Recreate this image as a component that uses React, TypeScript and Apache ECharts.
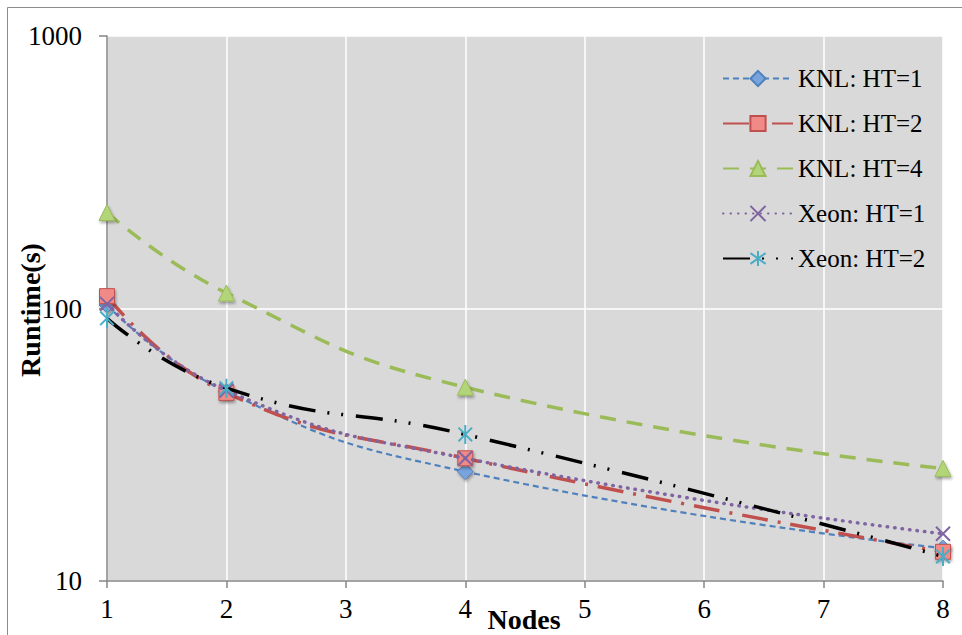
import React, { useEffect, useRef } from "react";
import * as echarts from "echarts";

const nodes = [1, 2, 4, 8];
const seriesNames = ["KNL: HT=1", "KNL: HT=2", "KNL: HT=4", "Xeon: HT=1", "Xeon: HT=2"];
const knlHT1 = [103, 49.5, 25.2, 13.2];
const knlHT2 = [111, 49, 28.2, 12.8];
const knlHT4 = [225, 114, 51.4, 25.9];
const xeonHT1 = [104, 50, 28.2, 14.9];
const xeonHT2 = [92, 51, 34.5, 12.3];
const xAxisTitle = "Nodes";
const yAxisTitle = "Runtime(s)";

const FONT = "Liberation Serif";
const CROSS = "path://M0,0L10,10M10,0L0,10";
const ASTERISK = "path://M0,0L10,10M10,0L0,10M5,-2L5,12";

const shadow = {
  shadowBlur: 3,
  shadowColor: "rgba(0,0,0,0.35)",
  shadowOffsetX: 1,
  shadowOffsetY: 2,
};

export default function App() {
  const ref = useRef<HTMLDivElement>(null);
  useEffect(() => {
    if (!ref.current) return;
    const chart = echarts.init(ref.current, undefined, { renderer: "svg" });
    const pts = (vals: number[]) => nodes.map((n, i) => [n, vals[i]]);
    const option: any = {
      animation: false,
      backgroundColor: "#ffffff",
      textStyle: { fontFamily: FONT },
      grid: {
        left: 107,
        right: 19,
        top: 36,
        bottom: 54,
        show: true,
        backgroundColor: "#D9D9D9",
        borderWidth: 0,
      },
      legend: {
        orient: "vertical",
        left: 717,
        top: 61,
        itemWidth: 70,
        itemHeight: 19,
        itemGap: 20,
        selectedMode: false,
        data: seriesNames,
        textStyle: { fontFamily: FONT, fontSize: 25, color: "#000", lineHeight: 25 },
      },
      xAxis: {
        type: "value",
        min: 1,
        max: 8,
        interval: 1,
        axisLine: { show: true, lineStyle: { color: "#868686", width: 1.5 } },
        axisTick: { show: true, length: 7, lineStyle: { color: "#868686", width: 1.5 } },
        splitLine: { show: true, lineStyle: { color: "#ffffff", width: 1.5 } },
        axisLabel: { fontFamily: FONT, fontSize: 27, color: "#000", margin: 14 },
      },
      yAxis: {
        type: "log",
        logBase: 10,
        min: 10,
        max: 1000,
        axisLine: { show: true, lineStyle: { color: "#868686", width: 1.5 } },
        axisTick: { show: true, length: 8, lineStyle: { color: "#868686", width: 1.5 } },
        splitLine: { show: true, lineStyle: { color: "#ffffff", width: 1.5 } },
        minorTick: { show: false },
        axisLabel: {
          fontFamily: FONT,
          fontSize: 27,
          color: "#000",
          margin: 25,
          formatter: (v: number) => String(Math.round(v)),
        },
      },
      graphic: [
        {
          type: "line",
          shape: { x1: 7.5, y1: 7.5, x2: 962, y2: 7.5 },
          style: { stroke: "#8c8c8c", lineWidth: 1 },
        },
        {
          type: "line",
          shape: { x1: 7.5, y1: 7.5, x2: 7.5, y2: 635 },
          style: { stroke: "#8c8c8c", lineWidth: 1 },
        },
        {
          type: "text",
          x: 30,
          y: 310,
          rotation: Math.PI / 2,
          style: {
            text: yAxisTitle,
            fontFamily: FONT,
            fontSize: 28,
            fontWeight: "bold",
            fill: "#000",
            align: "center",
            verticalAlign: "middle",
          },
        },
        {
          type: "text",
          x: 524,
          y: 619,
          style: {
            text: xAxisTitle,
            fontFamily: FONT,
            fontSize: 28,
            fontWeight: "bold",
            fill: "#000",
            align: "center",
            verticalAlign: "middle",
          },
        },
      ],
      series: [
        {
          name: seriesNames[0],
          type: "line",
          data: pts(knlHT1),
          smooth: 0.5,
          symbol: "diamond",
          symbolSize: 16,
          lineStyle: { color: "#4F81BD", width: 2.2, type: [6, 4] },
          itemStyle: { color: "#78A3DD", borderColor: "#4F81BD", borderWidth: 1, ...shadow },
          z: 2,
        },
        {
          name: seriesNames[1],
          type: "line",
          data: pts(knlHT2),
          smooth: 0.5,
          symbol: "rect",
          symbolSize: 15,
          lineStyle: { color: "#C0504D", width: 3.5, type: [26, 10, 3, 10] },
          itemStyle: { color: "#F08A87", borderColor: "#C0504D", borderWidth: 1, ...shadow },
          z: 3,
        },
        {
          name: seriesNames[2],
          type: "line",
          data: pts(knlHT4),
          smooth: 0.5,
          symbol: "triangle",
          symbolSize: 16,
          lineStyle: { color: "#9BBB59", width: 3.5, type: [16, 11] },
          itemStyle: { color: "#B3D57A", borderColor: "#9BBB59", borderWidth: 1, ...shadow },
          z: 4,
        },
        {
          name: seriesNames[3],
          type: "line",
          data: pts(xeonHT1),
          smooth: 0.5,
          symbol: CROSS,
          symbolSize: 14,
          lineStyle: { color: "#8064A2", width: 3.5, type: [0.5, 7], cap: "round" },
          itemStyle: { color: "#8064A2", borderColor: "#8064A2", borderWidth: 2 },
          z: 5,
        },
        {
          name: seriesNames[4],
          type: "line",
          data: pts(xeonHT2),
          smooth: 0.5,
          symbol: ASTERISK,
          symbolSize: 19,
          symbolKeepAspect: true,
          lineStyle: { color: "#000000", width: 3.5, type: [27, 12, 2, 12, 2, 13] },
          itemStyle: { color: "#4BACC6", borderColor: "#4BACC6", borderWidth: 2 },
          z: 6,
        },
      ],
    };
    chart.setOption(option);
    return () => chart.dispose();
  }, []);
  return (
    <div
      ref={ref}
      style={{ position: "fixed", left: 0, top: 0, width: 962, height: 635, background: "#fff" }}
    />
  );
}
